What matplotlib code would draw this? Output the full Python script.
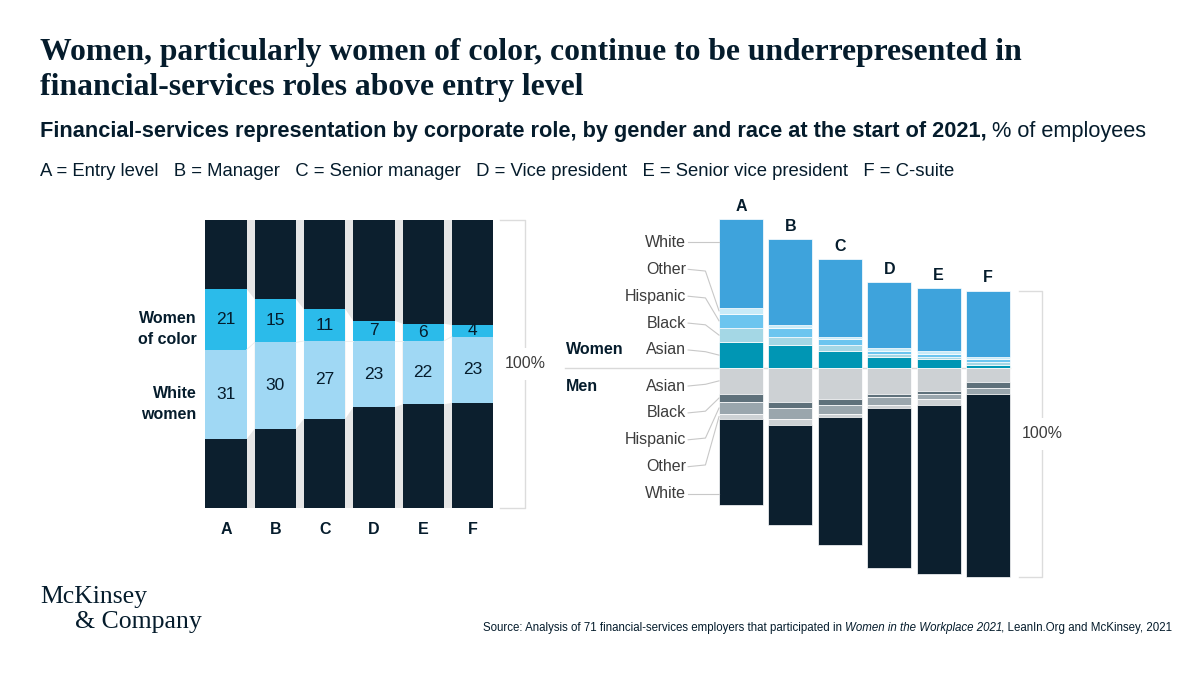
import numpy as np
import matplotlib.pyplot as plt
from matplotlib.patches import Polygon

plt.rcParams['font.family'] = ['Liberation Sans', 'DejaVu Sans']

# --- data -------------------------------------------------------------
roles = ['A', 'B', 'C', 'D', 'E', 'F']
role_names = ['Entry level', 'Manager', 'Senior manager', 'Vice president',
              'Senior vice president', 'C-suite']

# left chart, % of employees
women_of_color = [21, 15, 11, 7, 6, 4]
white_women = [31, 30, 27, 23, 22, 23]

# right chart, % of employees
w_asian = [9, 8, 6, 4, 3, 1]
w_black = [5, 3, 2, 1, 1, 1]
w_hispanic = [5, 3, 2, 1, 1, 1]
w_other = [2, 1, 1, 1, 1, 1]
w_white = [31, 30, 27, 23, 22, 23]

m_asian = [9, 12, 11, 9, 8, 5]
m_black = [3, 2, 2, 1, 1, 2]
m_hispanic = [4, 4, 3, 3, 2, 2]
m_other = [2, 2, 1, 1, 2, 0]
m_white = [30, 35, 45, 56, 59, 64]

race_labels = ['Asian', 'Black', 'Hispanic', 'Other', 'White']

# --- styling -----------------------------------------------------------
NAVY = '#0c1f2e'
TXT = '#051c2c'
GREY_TXT = '#3c3c3c'
women_colors = ['#0096b4', '#a4d7e5', '#6cc5ef', '#c8ebf8', '#3ea3dc']
men_colors = ['#cdd1d4', '#5f717b', '#9aa6ad', '#cdd1d4', NAVY]

W, H = 1200, 675
fig = plt.figure(figsize=(12, 6.75), dpi=100)


def px_box(x0, x1, ytop, ybot):
    return [x0 / W, 1 - ybot / H, (x1 - x0) / W, (ybot - ytop) / H]


def fit(t, target):
    r = fig.canvas.get_renderer()
    w = t.get_window_extent(r).width
    t.set_fontsize(t.get_fontsize() * target / w)


# --- header ------------------------------------------------------------
title = fig.text(40 / W, 1 - 50 / H,
                 'Women, particularly women of color, continue to be underrepresented in\n'
                 'financial-services roles above entry level',
                 family='Liberation Serif', weight='bold', fontsize=21, color=TXT,
                 va='center', ha='left', linespacing=1.25)
fit(title, 978)
title.set_y(1 - 70 / H)

sub_b = fig.text(40 / W, 1 - 132 / H,
                 'Financial-services representation by corporate role, by gender and race at the start of 2021,',
                 weight='bold', fontsize=14, color=TXT, va='center')
fit(sub_b, 950)
r = fig.canvas.get_renderer()
bb = sub_b.get_window_extent(r)
fig.text((bb.x1 + 5) / W, 1 - 132 / H, '% of employees', fontsize=sub_b.get_fontsize(),
         color=TXT, va='center')

legend_txt = '   '.join(f'{a} = {b}' for a, b in zip(roles, role_names))
leg = fig.text(40 / W, 1 - 171 / H, legend_txt, fontsize=12, color=TXT, va='center')
fit(leg, 922)

# --- left chart ---------------------------------------------------------
bw = 0.84
axl = fig.add_axes(px_box(201.4, 497.2, 220, 508))
x = np.arange(len(roles))
woc = np.array(women_of_color)
ww = np.array(white_women)
men = 100 - woc - ww
lo = men / 2
mid = lo + ww
hi = mid + woc

for i in range(len(roles) - 1):
    x0, x1 = i + bw / 2, i + 1 - bw / 2
    axl.fill_between([x0, x1], 0, 100, color='#e6e6e6', lw=0)
    axl.add_patch(Polygon([(x0, lo[i]), (x0, hi[i]), (x1, hi[i + 1]), (x1, lo[i + 1])],
                          closed=True, fc='white', ec='none'))
    axl.plot([x0, x1], [mid[i], mid[i + 1]], color='#ececec', lw=0.6)

axl.bar(x, lo, bw, bottom=0, color=NAVY, lw=0)
axl.bar(x, ww, bw, bottom=lo, color='#a0d8f4', lw=0)
axl.bar(x, woc, bw, bottom=mid, color='#2bbbea', lw=0)
axl.bar(x, 100 - hi, bw, bottom=hi, color=NAVY, lw=0)

for i in range(len(roles)):
    axl.text(x[i], lo[i] + ww[i] / 2, str(ww[i]), ha='center', va='center',
             fontsize=12.5, color=TXT)
    axl.text(x[i], mid[i] + woc[i] / 2, str(woc[i]), ha='center', va='center',
             fontsize=12.5, color=TXT)
    axl.text(x[i], -7.5, roles[i], ha='center', va='center', fontsize=11.5,
             weight='bold', color=TXT)

axl.text(-0.6, mid[0] + woc[0] / 2 - 3.5, 'Women\nof color', ha='right', va='center',
         fontsize=11.5, weight='bold', color=TXT, linespacing=1.5)
axl.text(-0.6, lo[0] + ww[0] / 2 - 3.5, 'White\nwomen', ha='right', va='center',
         fontsize=11.5, weight='bold', color=TXT, linespacing=1.5)

# 100% bracket
bx = 6.06
axl.plot([bx - 0.5, bx, bx, bx - 0.5], [100, 100, 0, 0], color='#dcdcdc', lw=1,
         clip_on=False)
axl.text(bx, 50, '100%', ha='center', va='center', fontsize=11.5, color=GREY_TXT,
         bbox=dict(fc='white', ec='none', pad=6))

axl.set_xlim(-0.5, 5.5)
axl.set_ylim(0, 100)
axl.axis('off')

# --- right chart --------------------------------------------------------
bw2 = 0.89
axr = fig.add_axes(px_box(716.3, 1012.7, 210.7, 582.5))
axr.set_xlim(-0.5, 5.5)
axr.set_ylim(-75, 55)
axr.axis('off')

women_parts = [np.array(v) for v in (w_asian, w_black, w_hispanic, w_other, w_white)]
men_parts = [np.array(v) for v in (m_asian, m_black, m_hispanic, m_other, m_white)]

axr.plot([-3.56, 5.45], [0, 0], color='#d9d9d9', lw=1, clip_on=False, zorder=0)

base = np.zeros(len(roles))
w_mids = []
for part, col in zip(women_parts, women_colors):
    axr.bar(x, part, bw2, bottom=base, color=col, ec='white', lw=0.5)
    w_mids.append(base[0] + part[0] / 2)
    base = base + part
w_tops = base

base = np.zeros(len(roles))
m_mids = []
for part, col in zip(men_parts, men_colors):
    axr.bar(x, -part, bw2, bottom=base, color=col, ec='white', lw=0.5)
    m_mids.append(base[0] - part[0] / 2)
    base = base - part
m_bots = base

for i in range(len(roles)):
    axr.text(x[i], w_tops[i] + 4.5, roles[i], ha='center', va='center',
             fontsize=11.5, weight='bold', color=TXT)

# segment labels with leader lines (bar A)
lab_x = -1.11
edge = -bw2 / 2
for k, name in enumerate(race_labels):
    bend = 0.6 if k < 4 else 0
    ly = 6.3 + 9.4 * k
    axr.text(lab_x, ly, name, ha='right', va='center', fontsize=11.5,
             color=GREY_TXT, clip_on=False)
    axr.plot([lab_x + 0.04, -0.72, edge], [ly, ly - bend, w_mids[k] if k < 4 else ly],
             color='#c8c8c8', lw=0.8, clip_on=False)
    ly = -6.3 - 9.4 * k
    axr.text(lab_x, ly, name, ha='right', va='center', fontsize=11.5,
             color=GREY_TXT, clip_on=False)
    axr.plot([lab_x + 0.04, -0.72, edge], [ly, ly + bend, m_mids[k] if k < 4 else ly],
             color='#c8c8c8', lw=0.8, clip_on=False)

axr.text(-3.54, 6.3, 'Women', ha='left', va='center', fontsize=11.5, weight='bold',
         color=TXT)
axr.text(-3.54, -6.3, 'Men', ha='left', va='center', fontsize=11.5, weight='bold',
         color=TXT)

# 100% bracket next to F
bx = 5.55 + (1040 - 1012.7) / 49.4
axr.plot([bx - 0.48, bx, bx, bx - 0.48], [w_tops[-1], w_tops[-1], m_bots[-1], m_bots[-1]],
         color='#dcdcdc', lw=1, clip_on=False)
axr.text(bx, (w_tops[-1] + m_bots[-1]) / 2, '100%', ha='center', va='center',
         fontsize=11.5, color=GREY_TXT, bbox=dict(fc='white', ec='none', pad=6))

# --- footer -------------------------------------------------------------
fig.text(40 / W, 1 - 597 / H, 'McKinsey', family='Liberation Serif', fontsize=18.5,
         color=TXT, va='center')
fig.text(75 / W, 1 - 622 / H, '& Company', family='Liberation Serif', fontsize=18.5,
         color=TXT, va='center')

src = ['Source: Analysis of 71 financial-services employers that participated in ',
       'Women in the Workplace 2021', ', LeanIn.Org and McKinsey, 2021']
styles = ['normal', 'italic', 'normal']
xpos = 483
for s, st in zip(src, styles):
    t = fig.text(xpos / W, 1 - 628 / H, s, fontsize=8.3, style=st, color=TXT, va='center')
    xpos = t.get_window_extent(r).x1 - (1.5 if st == 'italic' else 0)

fig.savefig('out.png', dpi=100)
